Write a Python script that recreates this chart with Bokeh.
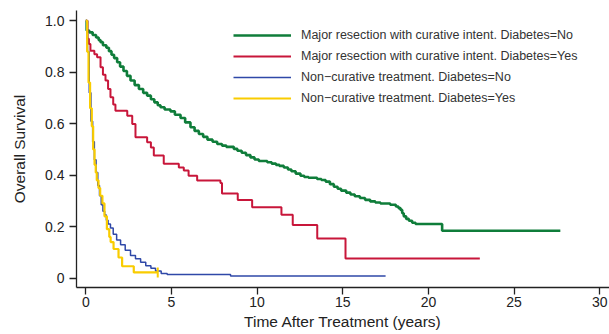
import math
from bokeh.plotting import figure
from bokeh.models import Legend, LegendItem, FixedTicker, Range1d
from bokeh.embed import file_html
from bokeh.resources import INLINE

# ---------------- data ----------------
green_t = [0, 0.05, 0.2, 0.4, 0.6, 0.75, 0.86, 1.0, 1.2, 1.35, 1.5, 1.65, 1.83, 2.0, 2.2,
           2.4, 2.61, 2.85, 3.1, 3.35, 3.58, 3.8, 4.0, 4.2, 4.36, 4.6, 4.94, 5.2, 5.53,
           5.8, 6.11, 6.35, 6.6, 6.85, 7.1, 7.4, 7.67, 7.95, 8.2, 8.64, 8.85, 9.1, 9.35,
           9.61, 9.85, 10.1, 10.59, 10.85, 11.1, 11.3, 11.56, 11.8, 12.0, 12.25, 12.53,
           12.75, 13.0, 13.5, 13.75, 14.0, 14.25, 14.48, 14.7, 14.9, 15.2, 15.45, 15.7,
           16.0, 16.3, 16.6, 16.9, 17.2, 17.77, 18.1, 18.25, 18.37, 18.47, 18.56, 18.7,
           18.86, 19.05, 19.25, 20.8, 27.7]
green_s = [1.0, 0.962, 0.955, 0.945, 0.935, 0.925, 0.917, 0.905, 0.895, 0.882, 0.868, 0.855,
           0.839, 0.822, 0.805, 0.786, 0.768, 0.75, 0.735, 0.72, 0.709, 0.695, 0.683, 0.672,
           0.664, 0.655, 0.648, 0.635, 0.622, 0.605, 0.586, 0.572, 0.56, 0.549, 0.538, 0.53,
           0.521, 0.515, 0.51, 0.502, 0.495, 0.487, 0.478, 0.469, 0.461, 0.455, 0.45, 0.445,
           0.44, 0.436, 0.43, 0.422, 0.415, 0.406, 0.398, 0.393, 0.39, 0.385, 0.381, 0.375,
           0.365, 0.355, 0.347, 0.34, 0.332, 0.325, 0.318, 0.311, 0.304, 0.298, 0.294, 0.29,
           0.285, 0.278, 0.272, 0.265, 0.252, 0.24, 0.23, 0.223, 0.215, 0.21, 0.184, 0.184]

red_t = [0, 0.1, 0.18, 0.27, 0.5, 0.66, 0.86, 1.0, 1.15, 1.3, 1.44, 1.6, 1.73, 2.42, 2.71,
         2.9, 3.58, 3.8, 3.97, 4.55, 5.43, 5.72, 6.0, 6.5, 7.86, 7.95, 8.87, 9.71, 11.42,
         12.08, 13.51, 15.16, 23.0]
red_s = [1.0, 0.93, 0.91, 0.884, 0.87, 0.858, 0.819, 0.79, 0.768, 0.735, 0.703, 0.675, 0.65,
         0.631, 0.599, 0.547, 0.528, 0.508, 0.476, 0.444, 0.43, 0.418, 0.398, 0.379, 0.37,
         0.329, 0.303, 0.275, 0.246, 0.206, 0.154, 0.076, 0.076]

blue_t = [0, 0.1, 0.2, 0.3, 0.4, 0.5, 0.6, 0.7, 0.8, 0.9, 1.0, 1.1, 1.2, 1.3, 1.44, 1.6,
          1.8, 2.03, 2.3, 2.61, 2.9, 3.2, 3.5, 3.8, 4.07, 4.4, 4.75, 8.45, 17.5]
blue_s = [1.0, 0.88, 0.72, 0.61, 0.53, 0.46, 0.41, 0.36, 0.32, 0.285, 0.26, 0.245, 0.225,
          0.21, 0.195, 0.17, 0.148, 0.13, 0.108, 0.088, 0.075, 0.062, 0.048, 0.038, 0.028,
          0.018, 0.014, 0.008, 0.008]

yellow_t = [0, 0.08, 0.16, 0.25, 0.35, 0.43, 0.51, 0.58, 0.64, 0.74, 0.84, 0.97, 1.09, 1.23,
            1.37, 1.45, 1.62, 1.91, 2.12, 2.8, 4.2]
yellow_s = [1.0, 0.88, 0.76, 0.66, 0.59, 0.5, 0.44, 0.41, 0.38, 0.35, 0.32, 0.29, 0.24, 0.19,
            0.16, 0.14, 0.113, 0.08, 0.046, 0.022, 0.022]
yellow_censor_t = [4.2]
yellow_censor_s = [0.022]

series_labels = ["Major resection with curative intent. Diabetes=No",
                 "Major resection with curative intent. Diabetes=Yes",
                 "Non\u2212curative treatment. Diabetes=No",
                 "Non\u2212curative treatment. Diabetes=Yes"]

x_ticks = [0, 5, 10, 15, 20, 25, 30]
y_ticks = [0, 0.2, 0.4, 0.6, 0.8, 1.0]
y_tick_labels = ["0", "0.2", "0.4", "0.6", "0.8", "1.0"]

# ---------------- figure ----------------
FONT = "Liberation Sans"
p = figure(width=609, height=334, output_backend="svg", toolbar_location=None,
           x_range=Range1d(-0.543, 30.57), y_range=Range1d(-0.0366, 1.040),
           min_border_left=76, min_border_right=0, min_border_top=10, min_border_bottom=47)
p.outline_line_color = None
p.xgrid.visible = False
p.ygrid.visible = False
p.background_fill_color = "white"

g = p.step(green_t, green_s, mode="after", line_color="#0f7d3a", line_width=2.6)
r = p.step(red_t, red_s, mode="after", line_color="#c8163a", line_width=2.0)
b = p.step(blue_t, blue_s, mode="after", line_color="#2f48a8", line_width=1.5)
y = p.step(yellow_t, yellow_s, mode="after", line_color="#f9cc00", line_width=2.2)
p.scatter(yellow_censor_t, yellow_censor_s, marker="dash", size=10, angle=math.pi / 2,
          line_color="#f9cc00", line_width=2)

legend = Legend(items=[LegendItem(label=series_labels[0], renderers=[g]),
                       LegendItem(label=series_labels[1], renderers=[r]),
                       LegendItem(label=series_labels[2], renderers=[b]),
                       LegendItem(label=series_labels[3], renderers=[y])],
                location=(157, 179), border_line_color=None, background_fill_alpha=0,
                padding=0, margin=0, spacing=1, glyph_width=58, glyph_height=20,
                label_height=20, label_standoff=10,
                label_text_font=FONT, label_text_font_size="12.5px",
                label_text_color="#333333")
p.add_layout(legend, "center")

for ax in (p.xaxis[0], p.yaxis[0]):
    ax.axis_line_color = "#222222"
    ax.axis_line_width = 1.3
    ax.major_tick_line_color = "#222222"
    ax.major_tick_line_width = 1.3
    ax.major_tick_in = 0
    ax.major_tick_out = 7
    ax.minor_tick_line_color = None
    ax.major_label_text_font = FONT
    ax.major_label_text_font_size = "14px"
    ax.major_label_text_color = "#222222"
    ax.axis_label_text_font = FONT
    ax.axis_label_text_font_size = "15.5px"
    ax.axis_label_text_font_style = "normal"
    ax.axis_label_text_color = "#222222"

p.xaxis.ticker = FixedTicker(ticks=x_ticks)
p.yaxis.ticker = FixedTicker(ticks=y_ticks)
p.yaxis.major_label_overrides = {t: l for t, l in zip(y_ticks, y_tick_labels)}
p.xaxis.axis_label = "Time After Treatment (years)"
p.yaxis.axis_label = "Overall Survival"
p.xaxis.major_label_standoff = 2
p.xaxis.axis_label_standoff = 3
p.yaxis.major_label_standoff = 5
p.yaxis.axis_label_standoff = 14

open("out.html", "w").write(file_html(p, INLINE))
